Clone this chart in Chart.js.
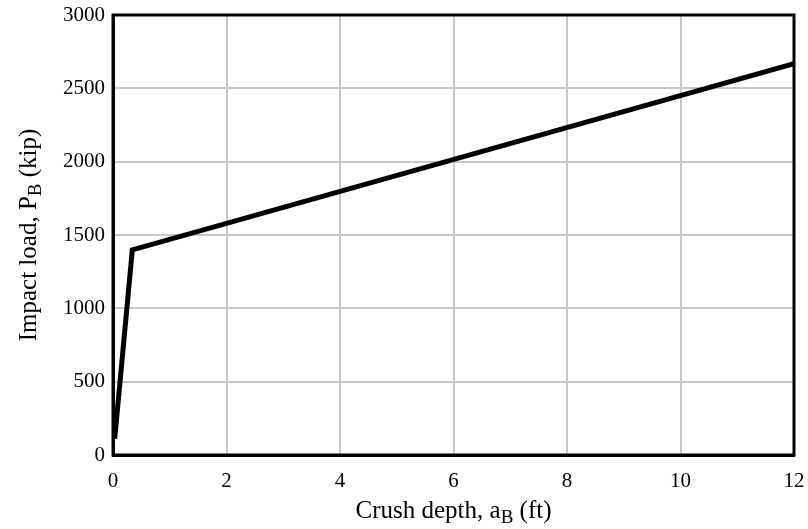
<!DOCTYPE html>
<html lang="en">
<head>
    <meta charset="UTF-8">
    <title>Impact load vs crush depth</title>
    <style>
        html, body { margin: 0; padding: 0; background: #fff; }
        #wrap { width: 808px; height: 529px; }
    </style>
    <script src="https://cdn.jsdelivr.net/npm/chart.js@4.4.0/dist/chart.umd.min.js"></script>
</head>
<body>
    <div id="wrap"><canvas id="impact-chart" width="808" height="529"></canvas></div>
    <script>
        const crushDepth = [0.03, 0.34, 12];
        const impactLoad = [110, 1398, 2669];
        const xTitle = [["Crush depth, a", false], ["B", true], [" (ft)", false]];
        const yTitle = [["Impact load, P", false], ["B", true], [" (kip)", false]];

        const FONT = "'Liberation Serif', 'Times New Roman', serif";

        // draws a title made of normal and subscript pieces, centred at (0,0)
        function drawPieces(ctx, pieces) {
            const big = "25px " + FONT, small = "19px " + FONT;
            let total = 0;
            pieces.forEach(([t, sub]) => {
                ctx.font = sub ? small : big;
                total += ctx.measureText(t).width;
            });
            let x = -total / 2;
            pieces.forEach(([t, sub]) => {
                ctx.font = sub ? small : big;
                ctx.fillText(t, x, sub ? 5 : 0);
                x += ctx.measureText(t).width;
            });
        }

        const framePlugin = {
            id: 'frame',
            afterDraw(chart) {
                const { ctx, chartArea: a } = chart;
                ctx.save();
                ctx.strokeStyle = '#000';
                ctx.lineWidth = 3;
                ctx.strokeRect(a.left, a.top, a.right - a.left, a.bottom - a.top);
                ctx.fillStyle = '#000';
                ctx.textBaseline = 'alphabetic';
                ctx.textAlign = 'left';
                ctx.save();
                ctx.translate((a.left + a.right) / 2, 518);
                drawPieces(ctx, xTitle);
                ctx.restore();
                ctx.save();
                ctx.translate(36, (a.top + a.bottom) / 2);
                ctx.rotate(-Math.PI / 2);
                drawPieces(ctx, yTitle);
                ctx.restore();
                ctx.restore();
            }
        };

        new Chart(document.getElementById('impact-chart').getContext('2d'), {
            type: 'scatter',
            data: {
                datasets: [{
                    data: crushDepth.map((x, i) => ({ x: x, y: impactLoad[i] })),
                    showLine: true,
                    borderColor: '#000',
                    borderWidth: 5,
                    pointRadius: 0,
                    tension: 0
                }]
            },
            options: {
                responsive: false,
                animation: false,
                layout: { padding: { top: 15, right: 14, left: 0, bottom: 0 } },
                plugins: { legend: { display: false }, tooltip: { enabled: false } },
                scales: {
                    x: {
                        type: 'linear',
                        min: 0, max: 12,
                        ticks: { stepSize: 2, color: '#000', padding: 14, font: { family: FONT, size: 21 },
                                 callback: v => String(v) },
                        grid: { color: '#c8c8c8', lineWidth: 2, drawTicks: false },
                        border: { color: '#000', width: 3 },
                        afterFit(s) { s.height = 74; s.paddingLeft = 0; s.paddingRight = 0; }
                    },
                    y: {
                        min: 0, max: 3000,
                        ticks: { stepSize: 500, color: '#000', padding: 8, font: { family: FONT, size: 21 },
                                 callback: v => String(v) },
                        grid: { color: '#c8c8c8', lineWidth: 2, drawTicks: false },
                        border: { color: '#000', width: 3 },
                        afterFit(s) { s.width = 113; s.paddingTop = 0; s.paddingBottom = 0; }
                    }
                }
            },
            plugins: [framePlugin]
        });
    </script>
</body>
</html>
